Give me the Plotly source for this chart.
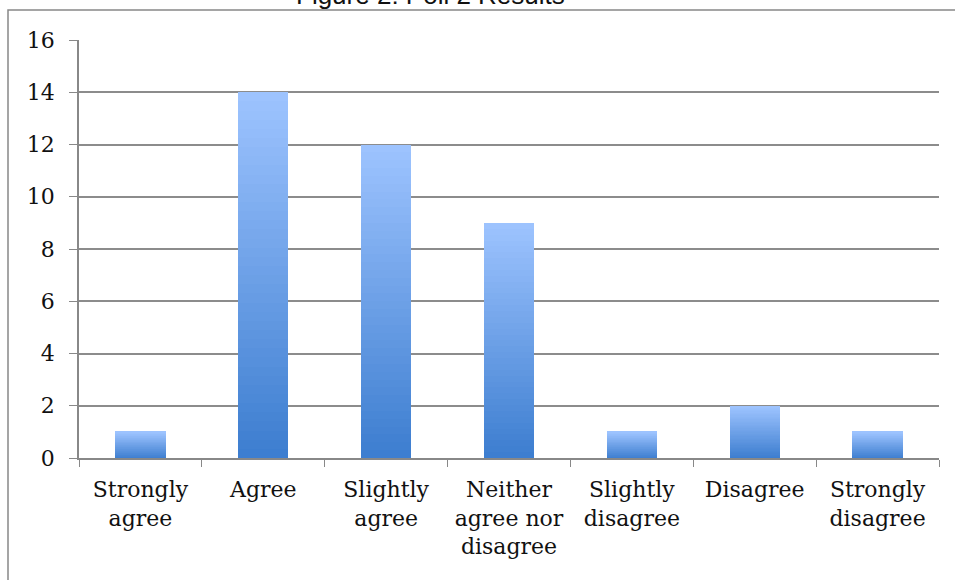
import plotly.graph_objects as go

categories = ["Strongly agree", "Agree", "Slightly agree", "Neither agree nor disagree",
              "Slightly disagree", "Disagree", "Strongly disagree"]
tick_labels = ["Strongly<br>agree", "Agree", "Slightly<br>agree", "Neither<br>agree nor<br>disagree",
               "Slightly<br>disagree", "Disagree", "Strongly<br>disagree"]
counts = [1, 14, 12, 9, 1, 2, 1]
y_ticks = [0, 2, 4, 6, 8, 10, 12, 14, 16]

# gradient: bottom dark blue -> top light blue
N = 40
c_bot = (60, 125, 207)
c_top = (158, 196, 255)

fig = go.Figure()
for k in range(N):
    t = (k + 0.5) / N
    col = "rgb(%d,%d,%d)" % tuple(round(c_bot[i] + (c_top[i] - c_bot[i]) * t) for i in range(3))
    fig.add_trace(go.Bar(
        x=categories, y=[v / N for v in counts],
        marker=dict(color=col, line=dict(width=0)),
        showlegend=False, hoverinfo="skip",
    ))

W, H = 955, 580
L, R, T, B = 79, 16, 40, 122
pw, ph = W - L - R, H - T - B

def px(x):
    return (x - L) / pw

def py(y):
    return 1 - (y - T) / ph

tick_font = dict(family="DejaVu Serif", size=22, color="#111")

fig.update_layout(
    width=W, height=H,
    margin=dict(l=L, r=R, t=T, b=B),
    paper_bgcolor="white", plot_bgcolor="white",
    barmode="stack", bargap=0.59,
    font=tick_font,
    xaxis=dict(
        tickmode="array", tickvals=categories, ticktext=tick_labels,
        tickson="boundaries", ticks="outside", ticklen=7, tickcolor="#888",
        showline=True, linecolor="#888", linewidth=1.5, showgrid=False,
        tickfont=tick_font, ticklabelstandoff=11,
    ),
    yaxis=dict(
        range=[0, 16], tickvals=y_ticks, ticks="outside", ticklen=8, tickcolor="#888",
        showline=True, linecolor="#888", linewidth=1.5,
        showgrid=True, gridcolor="#8c8c8c", gridwidth=1.5, zeroline=False,
        tickfont=tick_font, ticklabelstandoff=10,
    ),
    shapes=[
        dict(type="rect", xref="paper", yref="paper",
             x0=px(8), x1=px(990), y0=py(620), y1=py(10),
             line=dict(color="#888", width=1.5), layer="below"),
    ],
    annotations=[
        dict(text="Figure 2: Poll 2 Results", xref="paper", yref="paper",
             x=px(430), y=py(12), xanchor="center", yanchor="bottom", showarrow=False,
             font=dict(family="Liberation Sans", size=26, color="#111")),
    ],
)

fig.write_html("out.html")
